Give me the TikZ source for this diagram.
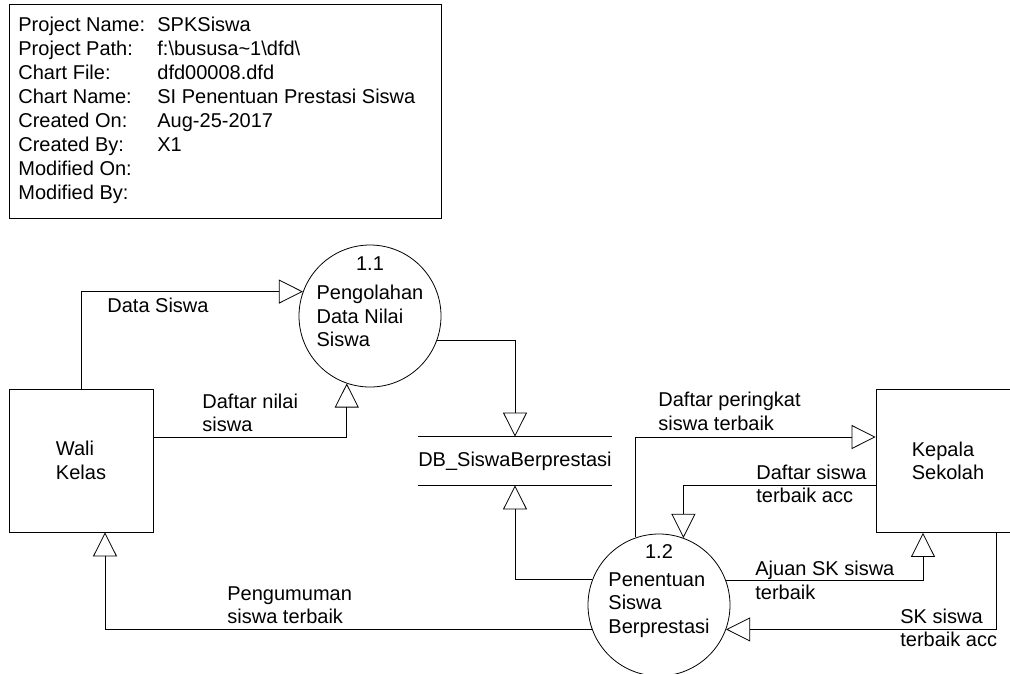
\documentclass[tikz,border=0pt]{standalone}
\usepackage{fontspec}
\setmainfont{Liberation Sans}
\usetikzlibrary{arrows.meta}

\tikzset{
  flow/.style={-{Triangle[open,length=24pt,width=24pt]}},
  proc/.style={circle, draw, minimum size=142pt, inner sep=0pt, align=left},
  entity/.style={rectangle, draw, minimum width=144pt, minimum height=143pt, inner sep=0pt, align=left},
  flowlabel/.style={anchor=west, align=left, inner sep=0pt},
}

\begin{document}
\begin{tikzpicture}[x=1pt, y=-1pt, line width=0.8pt, font=\fontsize{20}{23.5}\selectfont]
\useasboundingbox (0,0) rectangle (1010,673);
%%Info box
\node[draw, anchor=north west, minimum width=432pt, minimum height=214pt, inner sep=0pt] (info) at (9,4) {};
\foreach \key/\val [count=\i] in {Project Name:/SPKSiswa,
    Project Path:/f:\textbackslash bususa\textasciitilde 1\textbackslash dfd\textbackslash,
    Chart File:/dfd00008.dfd, Chart Name:/SI Penentuan Prestasi Siswa,
    Created On:/Aug-25-2017, Created By:/X1, Modified On:/{}, Modified By:/{}}{
  \node[anchor=base west, inner sep=0pt] (key\i) at (18,{7+24.1*\i}) {\key};
  \node[anchor=base west, inner sep=0pt] (val\i) at (157,{7+24.1*\i}) {\val};
}

%%Entities
\node[entity] (wali) at (81,460.5) {Wali\\Kelas};
\node[entity] (kepala) at (948,461) {Kepala\\Sekolah};

%%Processes
\node[proc] (p11) at (370,316) {Pengolahan\\Data Nilai\\Siswa};
\node (num11) at ([yshift=52pt]p11.center) {1.1};
\node[proc] (p12) at (659,605) {Penentuan\\Siswa\\Berprestasi};
\node (num12) at ([yshift=53pt]p12.center) {1.2};

%%Data store
\node[minimum width=193pt, minimum height=48pt, inner sep=0pt] (store) at (515,461) {DB\_SiswaBerprestasi};
\draw (store.north west) -- (store.north east);
\draw (store.south west) -- (store.south east);

%%Flows
\draw[flow] (wali.north) |- (p11.160);
\draw[flow] ([yshift=23.5pt]wali.east) -| (p11.251);
\draw[flow] (p11.340) -| (store.north);
\draw[flow] (p12.159) -| (store.south);
\draw[flow] (p12.200) -| ([xshift=24pt]wali.south);
\draw[flow] (p12.109) |- ([yshift=24pt]kepala.west);
\draw[flow] ([yshift=-24pt]kepala.west) -| (p12.70);
\draw[flow] (p12.20) -| ([xshift=-25pt]kepala.south);
\draw[flow] ([xshift=48pt]kepala.south) |- (p12.340);

%%Label
\node[flowlabel] (ldata) at (107,305) {Data Siswa};
\node[flowlabel] (lnilai) at (202,413) {Daftar nilai\\siswa};
\node[flowlabel] (lumum) at (227,605) {Pengumuman\\siswa terbaik};
\node[flowlabel] (lperingkat) at (658,411.5) {Daftar peringkat\\siswa terbaik};
\node[flowlabel] (lacc) at (756,484) {Daftar siswa\\terbaik acc};
\node[flowlabel] (lajuan) at (755,580.5) {Ajuan SK siswa\\terbaik};
\node[flowlabel] (lsk) at (900,628) {SK siswa\\terbaik acc};
\end{tikzpicture}
\end{document}
